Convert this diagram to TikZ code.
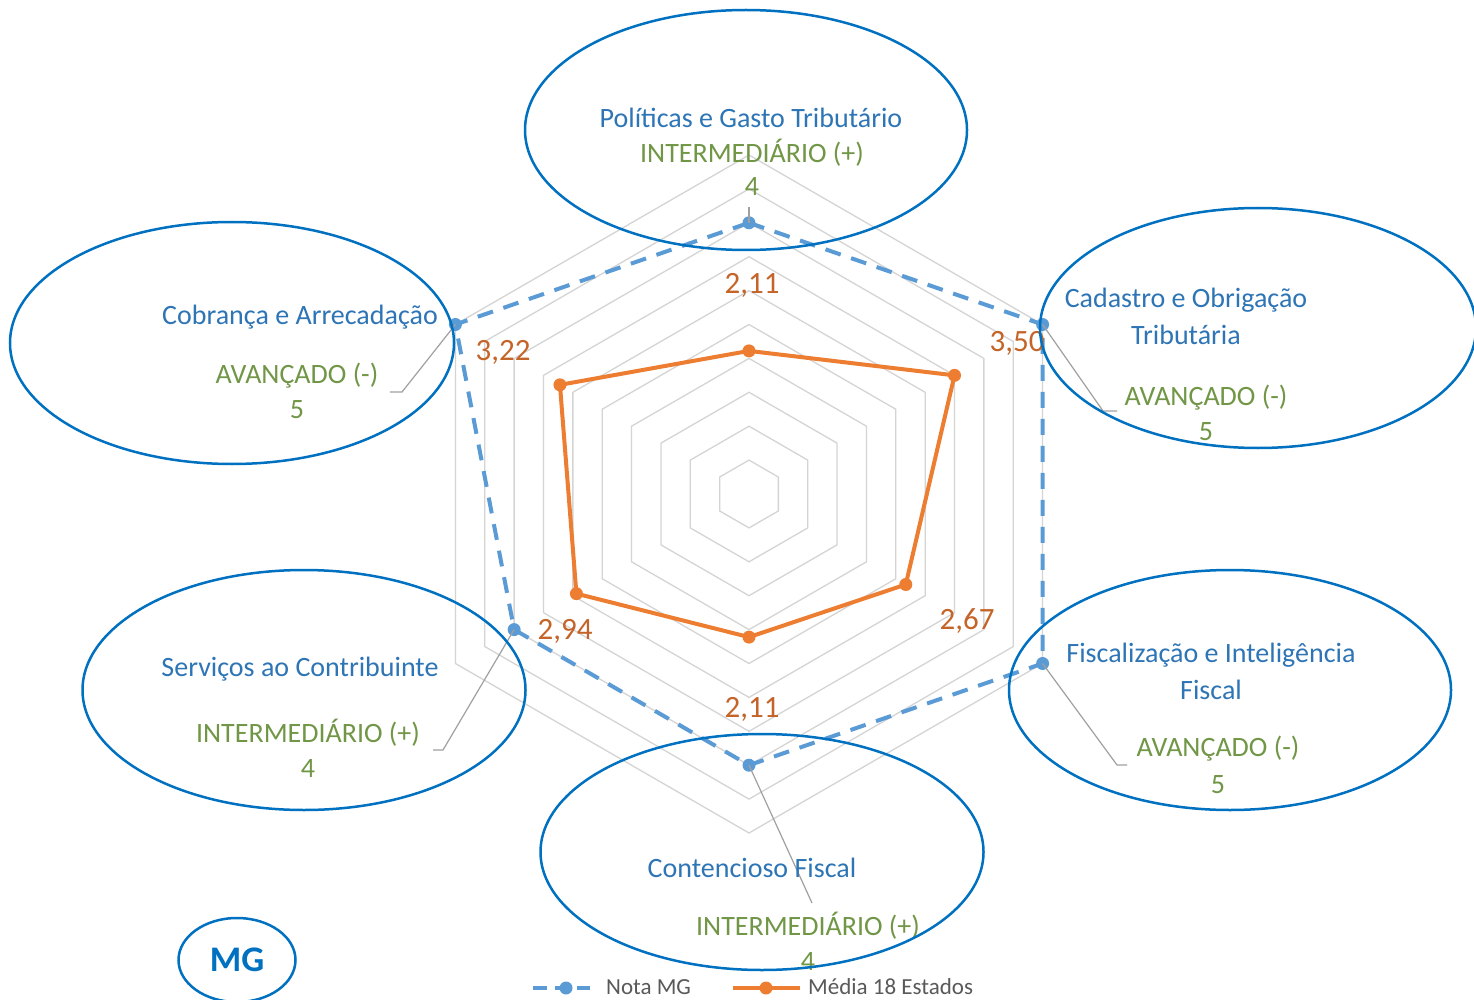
\documentclass[tikz,border=0pt]{standalone}
\usepackage{fontspec}
\setmainfont{Carlito}
\usetikzlibrary{calc,shapes.geometric}
\definecolor{ellblue}{RGB}{0,112,192}
\definecolor{catblue}{RGB}{46,117,182}
\definecolor{lvlgreen}{RGB}{112,150,70}
\definecolor{lblorange}{RGB}{197,100,40}
\definecolor{serorange}{RGB}{237,125,49}
\definecolor{serblue}{RGB}{91,155,213}
\definecolor{gridgray}{RGB}{212,212,212}
\definecolor{leadgray}{RGB}{160,160,160}
\definecolor{leggray}{RGB}{89,89,89}
\tikzset{
  cat/.style={text=catblue, font=\fontsize{28}{37}\selectfont, align=center, inner sep=0pt},
  lvl/.style={text=lvlgreen, font=\fontsize{28}{35}\selectfont, align=center, inner sep=0pt},
  val/.style={text=lblorange, font=\fontsize{31}{32}\selectfont, inner sep=0pt},
  oval/.style={draw=ellblue, line width=2.5pt, ellipse, inner sep=0pt},
  gridline/.style={draw=gridgray, line width=1.3pt},
  leader/.style={draw=leadgray, line width=1.2pt},
  notaline/.style={draw=serblue, line width=4pt, dash pattern=on 16pt off 11pt},
  medialine/.style={draw=serorange, line width=4pt, line join=round},
  notadot/.style={fill=serblue},
  mediadot/.style={fill=serorange},
  legtext/.style={text=leggray, font=\fontsize{23}{25}\selectfont, inner sep=0pt, anchor=west},
}
\begin{document}
\begin{tikzpicture}[x=1pt,y=-1pt]
\useasboundingbox[fill=white] (0,0) rectangle (1474,1000);
\coordinate (C) at (749,494);
% grid
\begin{scope}[shift={(C)}]
\foreach \r in {1,...,10}{
  \path[gridline] (-90:\r*33.9) -- (-30:\r*33.9) -- (30:\r*33.9) -- (90:\r*33.9) -- (150:\r*33.9) -- (210:\r*33.9) -- cycle;
}
% data coordinates
\coordinate (n1) at (-90:271.2);
\coordinate (n2) at (-30:339);
\coordinate (n3) at (30:339);
\coordinate (n4) at (90:271.2);
\coordinate (n5) at (150:271.2);
\coordinate (n6) at (210:339);
\coordinate (m1) at (-90:143.1);
\coordinate (m2) at (-30:237.3);
\coordinate (m3) at (30:181.0);
\coordinate (m4) at (90:143.1);
\coordinate (m5) at (150:199.3);
\coordinate (m6) at (210:218.3);
\end{scope}
% series
\path[notaline] (n1) -- (n2) -- (n3) -- (n4) -- (n5) -- (n6) -- cycle;
\path[medialine] (m1) -- (m2) -- (m3) -- (m4) -- (m5) -- (m6) -- cycle;
\foreach \p in {n1,n2,n3,n4,n5,n6}{\fill[notadot] (\p) circle (6.5);}
\foreach \p in {m1,m2,m3,m4,m5,m6}{\fill[mediadot] (\p) circle (6.5);}
% leader lines
\coordinate (l1) at (749,207);
\coordinate (l2a) at (1103,411); \coordinate (l2b) at (1117,411);
\coordinate (l3a) at (1117,765); \coordinate (l3b) at (1127,765);
\coordinate (l4) at (812,903);
\coordinate (l5a) at (443,750); \coordinate (l5b) at (433,750);
\coordinate (l6a) at (402,392); \coordinate (l6b) at (390,392);
\path[leader] (n1) -- (l1);
\path[leader] (n2) -- (l2a) -- (l2b);
\path[leader] (n3) -- (l3a) -- (l3b);
\path[leader] (n4) -- (l4);
\path[leader] (n5) -- (l5a) -- (l5b);
\path[leader] (n6) -- (l6a) -- (l6b);
% orange value labels
\node[val] (v1) at (752,285) {2,11};
\node[val] (v2) at (1017,343) {3,50};
\node[val] (v3) at (967,621) {2,67};
\node[val] (v4) at (752,709) {2,11};
\node[val] (v5) at (565,631) {2,94};
\node[val] (v6) at (503,352) {3,22};
% category labels
\node[cat] (c1) at (751,118) {Políticas e Gasto Tributário};
\node[lvl] (g1) at (752,153) {INTERMEDIÁRIO (+)};
\node[lvl] (s1) at (752,187) {4};
\node[cat] (c2) at (1186,316) {Cadastro e Obrigação\\Tributária};
\node[lvl] (g2) at (1206,398) {AVANÇADO (-)};
\node[lvl] (s2) at (1206,432) {5};
\node[cat] (c3) at (1211,671) {Fiscalização e Inteligência\\Fiscal};
\node[lvl] (g3) at (1218,749) {AVANÇADO (-)};
\node[lvl] (s3) at (1218,785) {5};
\node[cat] (c4) at (752,868) {Contencioso Fiscal};
\node[lvl] (g4) at (808,926) {INTERMEDIÁRIO (+)};
\node[lvl] (s4) at (808,962) {4};
\node[cat] (c5) at (300,669) {Serviços ao Contribuinte};
\node[lvl] (g5) at (308,733) {INTERMEDIÁRIO (+)};
\node[lvl] (s5) at (308,769) {4};
\node[cat] (c6) at (300,317) {Cobrança e Arrecadação};
\node[lvl] (g6) at (297,376) {AVANÇADO (-)};
\node[lvl] (s6) at (297,410) {5};
% ellipses
\node[oval, minimum width=442pt, minimum height=240pt] (e1) at (746,130) {};
\node[oval, minimum width=436pt, minimum height=240pt] (e2) at (1258,328) {};
\node[oval, minimum width=442pt, minimum height=240pt] (e3) at (1230,690) {};
\node[oval, minimum width=443pt, minimum height=236pt] (e4) at (762,852) {};
\node[oval, minimum width=443pt, minimum height=240pt] (e5) at (304,690) {};
\node[oval, minimum width=444pt, minimum height=242pt] (e6) at (232,343) {};
\node[oval, minimum width=117pt, minimum height=84pt, text=ellblue, font=\fontsize{36}{38}\selectfont\bfseries] (mg) at (237,960) {MG};
% legend
\coordinate (la) at (533,988); \coordinate (lb) at (590,988); \coordinate (lc) at (566,988);
\path[draw=serblue, line width=4pt, dash pattern=on 14pt off 8pt] (la) -- (lb);
\fill[notadot] (lc) circle (6.5);
\node[legtext] (t1) at (606,987) {Nota MG};
\coordinate (ld) at (733,988); \coordinate (le) at (800,988); \coordinate (lf) at (766,988);
\path[draw=serorange, line width=4pt] (ld) -- (le);
\fill[mediadot] (lf) circle (6.5);
\node[legtext] (t2) at (808,987) {Média 18 Estados};
\end{tikzpicture}
\end{document}
